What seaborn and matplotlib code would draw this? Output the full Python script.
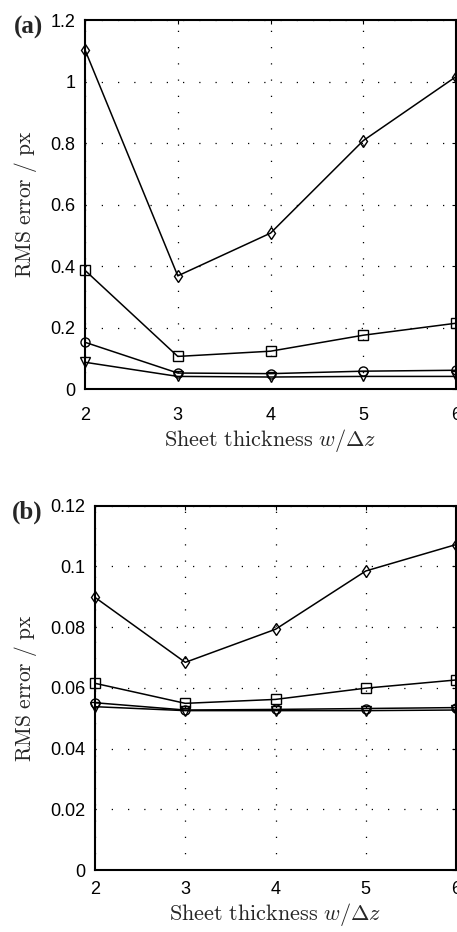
import matplotlib
matplotlib.use("Agg")
import matplotlib.pyplot as plt
import pandas as pd
import seaborn as sns

# sheet thickness w / dz
thickness = [2, 3, 4, 5, 6]

# panel (a)
a_diamond = [1.103, 0.368, 0.507, 0.808, 1.016]
a_square = [0.386, 0.106, 0.123, 0.175, 0.214]
a_circle = [0.152, 0.052, 0.050, 0.058, 0.061]
a_triangle = [0.087, 0.041, 0.039, 0.041, 0.041]

# panel (b)
b_diamond = [0.0898, 0.0684, 0.0793, 0.0985, 0.1072]
b_square = [0.0615, 0.0549, 0.0562, 0.0599, 0.0626]
b_circle = [0.0551, 0.0527, 0.0529, 0.0532, 0.0535]
b_triangle = [0.0538, 0.0525, 0.0525, 0.0525, 0.0527]

yticks_a = [0, 0.2, 0.4, 0.6, 0.8, 1.0, 1.2]
yticklabels_a = ["0", "0.2", "0.4", "0.6", "0.8", "1", "1.2"]
yticks_b = [0, 0.02, 0.04, 0.06, 0.08, 0.10, 0.12]
yticklabels_b = ["0", "0.02", "0.04", "0.06", "0.08", "0.1", "0.12"]

markers = {"diamond": "d", "square": "s", "circle": "o", "triangle": "v"}


def long_df(diamond, square, circle, triangle):
    frames = []
    for name, vals in zip(markers, [diamond, square, circle, triangle]):
        frames.append(pd.DataFrame(dict(w=thickness, rms=vals, series=name)))
    return pd.concat(frames, ignore_index=True)


sns.set_style("white")
plt.rcParams["mathtext.fontset"] = "cm"
plt.rcParams["font.family"] = ["Liberation Sans", "DejaVu Sans"]

fig = plt.figure(figsize=(4.57, 9.32), dpi=100)
ax_a = fig.add_axes([0.186, 0.5826, 0.812, 0.3959])
ax_b = fig.add_axes([0.2079, 0.0665, 0.790, 0.3909])

# (axes, data, ylim, yticks, labels, tag, tag baseline, x tick pad)
panels = [
    (ax_a, long_df(a_diamond, a_square, a_circle, a_triangle), (0, 1.2),
     yticks_a, yticklabels_a, "(a)", 0.9635, 13),
    (ax_b, long_df(b_diamond, b_square, b_circle, b_triangle), (0, 0.12),
     yticks_b, yticklabels_b, "(b)", 0.444, 8),
]

for ax, df, ylim, yt, ytl, tag, tag_y, xpad in panels:
    sns.lineplot(
        data=df, x="w", y="rms", style="series", markers=markers,
        dashes=False, color="k", legend=False, ax=ax, lw=1.1,
        markersize=6.5, markerfacecolor="none", markeredgecolor="k",
        markeredgewidth=1.0, clip_on=False, zorder=3,
    )
    ax.set_xlim(2, 6)
    ax.set_ylim(*ylim)
    ax.set_xticks(thickness)
    ax.set_xticklabels([str(t) for t in thickness])
    ax.set_yticks(yt)
    ax.set_yticklabels(ytl)
    ax.grid(True, color="k", linestyle=(0, (1, 12)), linewidth=0.9)
    ax.tick_params(direction="in", length=3, width=0.8, labelsize=13,
                   colors="k", top=True, right=True)
    ax.tick_params(axis="x", pad=xpad)
    ax.tick_params(axis="y", pad=7)
    for sp in ax.spines.values():
        sp.set_linewidth(1.5)
        sp.set_color("k")
    ax.set_xlabel(r"$\mathrm{Sheet\ thickness}\ w/\Delta z$", fontsize=16,
                  labelpad=2)
    ax.set_ylabel(r"$\mathrm{RMS\ error\ /\ px}$", fontsize=15.5, labelpad=8)
    fig.text(0.094, tag_y, tag, fontsize=18,
             fontfamily=["Liberation Serif", "DejaVu Serif"],
             fontweight="bold", ha="right", va="baseline")

fig.savefig("out.png", dpi=100)
